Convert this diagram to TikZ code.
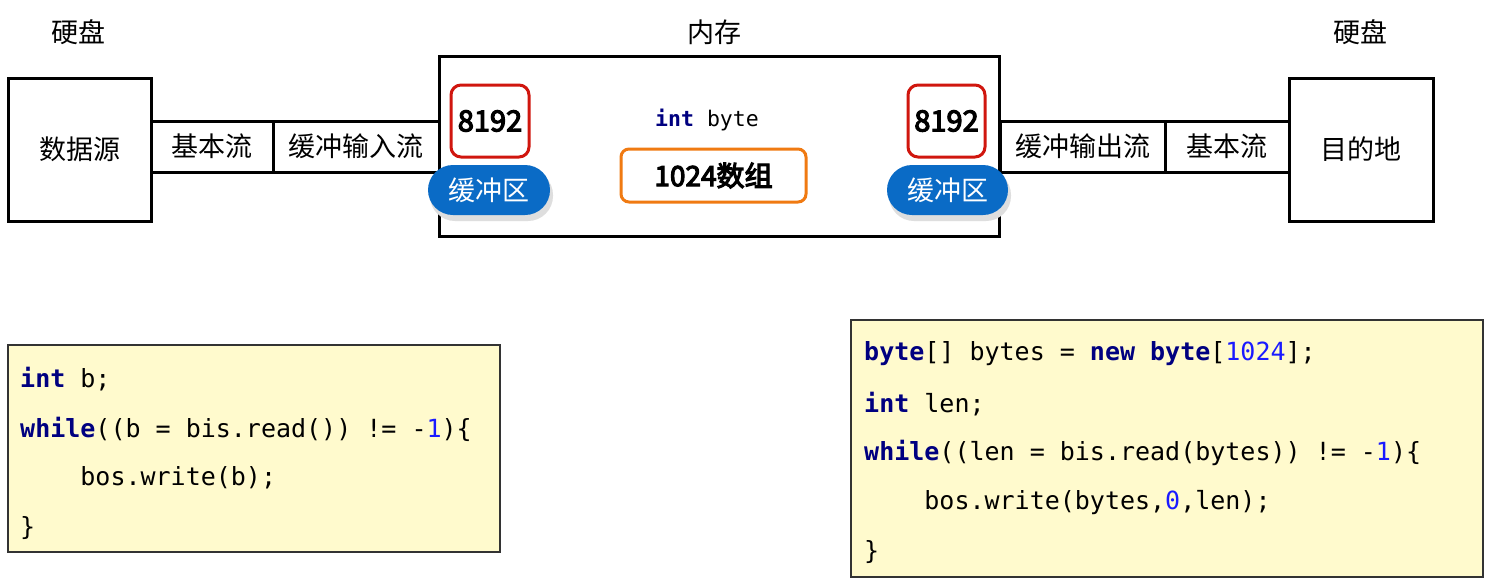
\documentclass[tikz,border=0pt]{standalone}
\usepackage{fontspec}
\setmainfont{Noto Sans CJK SC}
\setmonofont{DejaVu Sans Mono}
\newfontfamily\heavyfont[FakeBold=4]{Noto Sans CJK SC}
\definecolor{kw}{HTML}{000080}
\definecolor{num}{HTML}{1A1AFF}
\definecolor{redb}{HTML}{D0160E}
\definecolor{orangeb}{HTML}{F07A12}
\definecolor{pill}{HTML}{0A6BC6}
\definecolor{codebg}{HTML}{FFFACD}
\newcommand{\kwd}[1]{\textcolor{kw}{\bfseries #1}}
\newcommand{\nm}[1]{\textcolor{num}{#1}}
\tikzset{
  blk/.style={draw=black, line width=3pt, fill=white, inner sep=0pt, outer sep=0pt,
    font=\fontsize{27}{30}\selectfont},
  redbox/.style={draw=redb, line width=3pt, fill=white, rounded corners=10pt, inner sep=0pt,
    minimum width=78pt, minimum height=72pt, font=\heavyfont\fontsize{29}{30}\selectfont},
  pillbox/.style={fill=pill, text=white, rounded corners=25pt, inner sep=0pt,
    minimum height=50pt, font=\fontsize{27}{30}\selectfont},
  pillshadow/.style={fill=black!13, rounded corners=25pt},
  lbl/.style={font=\fontsize{27}{30}\selectfont, inner sep=0pt},
  codebox/.style={draw=black!80, line width=1.5pt, fill=codebg, inner sep=0pt},
  codeline/.style={anchor=west, inner sep=0pt, font=\ttfamily\fontsize{25}{30}\selectfont}
}
\begin{document}
\begin{tikzpicture}[x=1pt,y=-1pt]
\useasboundingbox (0,0) rectangle (1493,584);
\fill[white] (0,0) rectangle (1493,584);
% labels
\node[lbl] (hd1) at (78,32) {硬盘};
\node[lbl] (mem) at (714,32) {内存};
\node[lbl] (hd2) at (1360,32) {硬盘};
% left side
\node[blk, minimum width=143pt, minimum height=143pt] (src) at (79.5,149.5) {数据源};
\node[blk, minimum width=122pt, minimum height=51pt] (bs1) at (212,146.5) {基本流};
\node[blk, minimum width=166pt, minimum height=51pt] (bis) at (356,146.5) {缓冲输入流};
% memory box
\node[blk, minimum width=560pt, minimum height=180pt] (membox) at (719,146) {};
% right side
\node[blk, minimum width=165pt, minimum height=51pt] (bos) at (1082.5,146.5) {缓冲输出流};
\node[blk, minimum width=124pt, minimum height=51pt] (bs2) at (1227,146.5) {基本流};
\node[blk, minimum width=144pt, minimum height=143pt] (dst) at (1361,149.5) {目的地};
% buffers
\node[redbox] (buf1) at (490,121) {8192};
\node[redbox, minimum width=77pt] (buf2) at (946.5,121) {8192};
\fill[pillshadow] (430,170) rectangle (553,221);
\node[pillbox, minimum width=122pt] (pill1) at (489,190) {缓冲区};
\fill[pillshadow] (889,170) rectangle (1011,221);
\node[pillbox, minimum width=121pt] (pill2) at (947.5,190) {缓冲区};
% center
\node[inner sep=0pt, font=\ttfamily\fontsize{21.5}{26}\selectfont] (ib) at (707,120) {\kwd{int} byte};
\node[draw=orangeb, line width=3pt, fill=white, rounded corners=8pt, inner sep=0pt,
  minimum width=185pt, minimum height=53pt, font=\heavyfont\fontsize{28}{30}\selectfont] (arr) at (713.5,175.5) {1024数组};
% code boxes
\node[codebox, minimum width=492pt, minimum height=207pt] (code1) at (254,448.5) {};
\node[codeline] (c1a) at (20,379) {\kwd{int} b;};
\node[codeline] (c1b) at (20,429) {\kwd{while}((b = bis.read()) != -\nm{1})\{};
\node[codeline] (c1c) at (20,478) {\ \ \ \ bos.write(b);};
\node[codeline] (c1d) at (20,528) {\}};
\node[codebox, minimum width=632pt, minimum height=257pt] (code2) at (1167,448.5) {};
\node[codeline] (c2a) at (864,354) {\kwd{byte}[] bytes = \kwd{new} \kwd{byte}[\nm{1024}];};
\node[codeline] (c2b) at (864,404) {\kwd{int} len;};
\node[codeline] (c2c) at (864,453) {\kwd{while}((len = bis.read(bytes)) != -\nm{1})\{};
\node[codeline] (c2d) at (864,503) {\ \ \ \ bos.write(bytes,\nm{0},len);};
\node[codeline] (c2e) at (864,552) {\}};
\end{tikzpicture}
\end{document}
